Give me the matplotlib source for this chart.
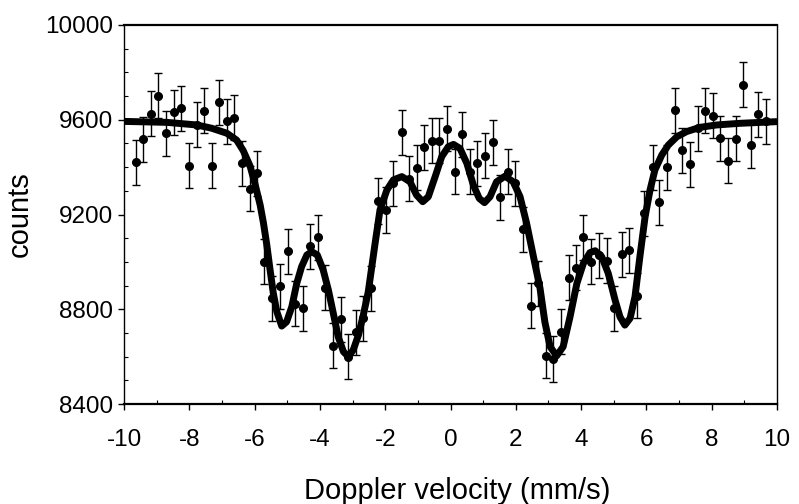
import numpy as np
import matplotlib
matplotlib.use("Agg")
import matplotlib.pyplot as plt
from matplotlib.ticker import MultipleLocator

plt.rcParams['font.family'] = ['Liberation Sans', 'DejaVu Sans']
plt.rcParams['axes.unicode_minus'] = False

# measured spectrum (velocity in mm/s, counts)
velocity = [-9.64, -9.41, -9.17, -8.95, -8.71, -8.48, -8.25, -8.01, -7.77, -7.55,
            -7.31, -7.09, -6.85, -6.62, -6.38, -6.14, -5.92, -5.70, -5.47, -5.22,
            -4.99, -4.76, -4.53, -4.30, -4.07, -3.83, -3.59, -3.36, -3.13, -2.90,
            -2.67, -2.44, -2.21, -1.98, -1.75, -1.50, -1.26, -1.04, -0.80, -0.57,
            -0.34, -0.11, 0.13, 0.36, 0.59, 0.82, 1.06, 1.29, 1.53, 1.75,
            1.98, 2.22, 2.46, 2.69, 2.93, 3.15, 3.38, 3.62, 3.85, 4.07,
            4.30, 4.54, 4.78, 5.01, 5.24, 5.48, 5.70, 5.94, 6.19, 6.40,
            6.63, 6.87, 7.10, 7.34, 7.57, 7.80, 8.03, 8.26, 8.50, 8.74,
            8.96, 9.19, 9.43, 9.66]
counts = [9420, 9517, 9626, 9702, 9544, 9631, 9648, 9406, 9578, 9638,
          9406, 9674, 9593, 9609, 9417, 9308, 9375, 9001, 8846, 8898,
          9044, 8823, 8804, 9067, 9103, 8890, 8645, 8758, 8600, 8703,
          8762, 8888, 9257, 9219, 9332, 9547, 9350, 9398, 9484, 9512,
          9512, 9561, 9381, 9539, 9381, 9416, 9447, 9505, 9273, 9381,
          9332, 9137, 8815, 8909, 8604, 8590, 8705, 8933, 8975, 9104,
          9001, 9029, 9004, 8804, 9032, 9050, 8857, 9205, 9399, 9251,
          9399, 9641, 9472, 9412, 9564, 9637, 9616, 9522, 9426, 9519,
          9747, 9493, 9623, 9593]
err = 95

# fitted curve
fit_v = [-10.0, -8.69, -7.77, -7.31, -6.85, -6.55, -6.35, -6.14, -5.99, -5.83,
         -5.73, -5.63, -5.53, -5.43, -5.32, -5.17, -5.02, -4.86, -4.71, -4.56,
         -4.40, -4.25, -4.08, -3.90, -3.74, -3.59, -3.44, -3.28, -3.13, -2.98,
         -2.82, -2.67, -2.52, -2.31, -2.16, -1.95, -1.75, -1.49, -1.24, -1.04,
         -0.85, -0.68, -0.47, -0.27, -0.07, 0.09, 0.29, 0.50, 0.70, 0.88,
         1.04, 1.21, 1.41, 1.67, 1.92, 2.13, 2.33, 2.54, 2.74, 2.89,
         3.05, 3.25, 3.45, 3.66, 3.87, 4.07, 4.27, 4.43, 4.63, 4.83,
         5.04, 5.19, 5.34, 5.50, 5.65, 5.80, 5.96, 6.11, 6.26, 6.47,
         6.67, 6.93, 7.23, 7.64, 8.15, 8.87, 10.0]
fit_counts = [9593, 9589, 9578, 9564, 9543, 9514, 9470, 9405, 9330, 9240,
              9165, 9075, 8970, 8870, 8790, 8729, 8747, 8811, 8909, 8980,
              9029, 9043, 9029, 8966, 8881, 8783, 8684, 8621, 8600, 8628,
              8691, 8776, 8873, 9078, 9219, 9303, 9346, 9360, 9338, 9282,
              9254, 9275, 9360, 9444, 9486, 9496, 9479, 9416, 9324, 9268,
              9250, 9275, 9338, 9362, 9338, 9275, 9163, 9022, 8890, 8746,
              8642, 8603, 8642, 8768, 8909, 8994, 9039, 9047, 9022, 8952,
              8839, 8768, 8733, 8762, 8853, 9022, 9191, 9303, 9388, 9451,
              9493, 9528, 9550, 9568, 9578, 9585, 9592]

fig = plt.figure(figsize=(7.99, 5.04), dpi=100)
ax = fig.add_axes([0.1552, 0.1984, 0.8173, 0.752])

ax.plot(fit_v, fit_counts, color='black', lw=5, solid_joinstyle='round',
        solid_capstyle='butt', zorder=2)
ax.errorbar(velocity, counts, yerr=err, fmt='o', color='black', ms=5.5,
            elinewidth=1, capsize=2.8, capthick=1, zorder=3)

ax.set_xlim(-10, 10)
ax.set_ylim(8400, 10000)
ax.xaxis.set_major_locator(MultipleLocator(2))
ax.xaxis.set_minor_locator(MultipleLocator(1))
ax.yaxis.set_major_locator(MultipleLocator(400))
ax.yaxis.set_minor_locator(MultipleLocator(100))

ax.tick_params(which='major', direction='out', length=4, width=1,
               labelsize=17.5)
ax.tick_params(which='minor', direction='in', length=3, width=0.8)
ax.tick_params(axis='x', which='major', pad=14)
ax.tick_params(axis='y', which='major', pad=4)

ax.spines['top'].set_linewidth(1.6)
ax.spines['bottom'].set_linewidth(1.6)
ax.spines['left'].set_linewidth(1.0)
ax.spines['right'].set_linewidth(1.0)

ax.set_ylabel('counts', fontsize=21, labelpad=8)
fig.text(0.572, 0.010, 'Doppler velocity (mm/s)', fontsize=21,
         ha='center', va='baseline')

fig.savefig('out.png', dpi=100)
